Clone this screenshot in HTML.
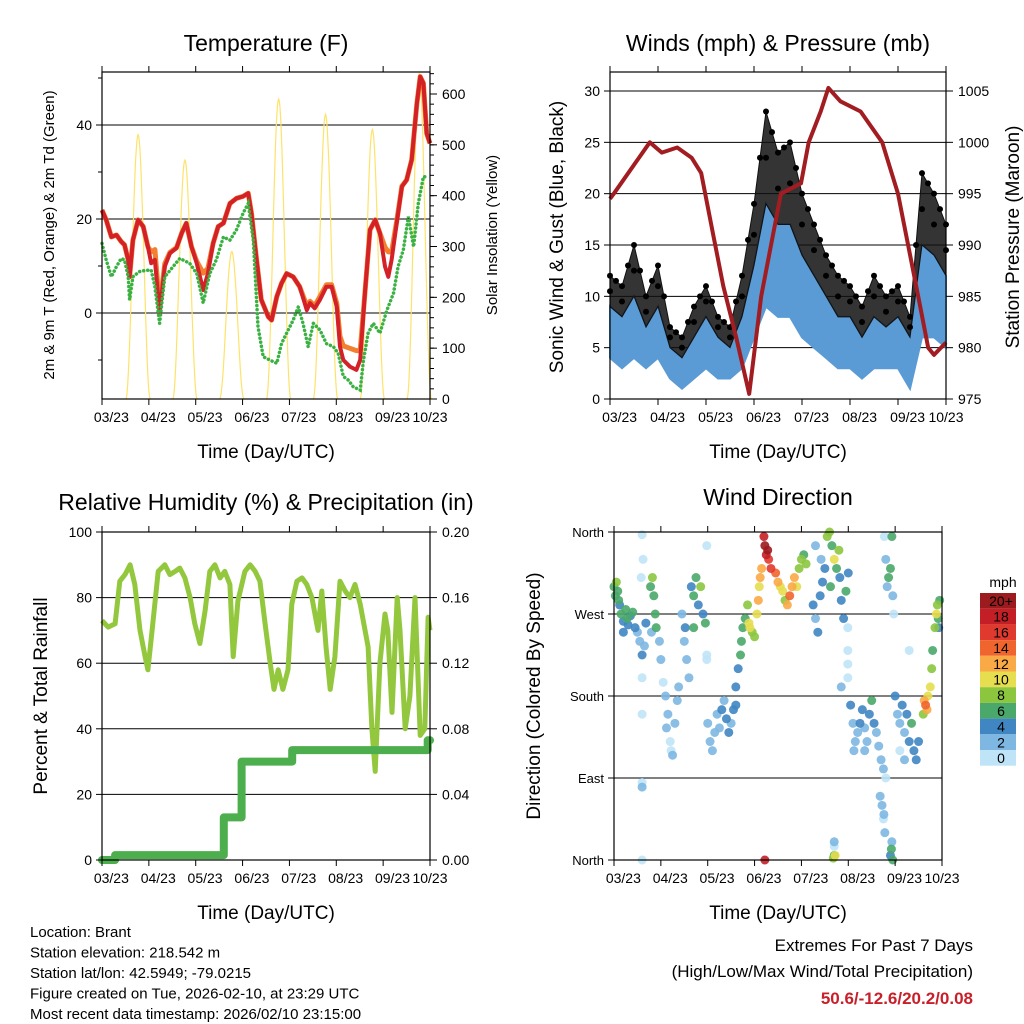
<!DOCTYPE html>
<html><head><meta charset="utf-8"><style>
html,body{margin:0;padding:0;background:#fff}
svg{display:block;font-family:"Liberation Sans",Arial,sans-serif}
</style></head><body>
<svg id="c" width="1024" height="1024" viewBox="0 0 1024 1024" xmlns="http://www.w3.org/2000/svg"></svg>
<script>
// ---------- DATA ----------
const dayLabels = ["03/23","04/23","05/23","06/23","07/23","08/23","09/23","10/23"];
const dayLabelT = [0.2,1.2,2.2,3.2,4.2,5.2,6.2,7.0];
const tempT = [0,.09,.20,.31,.41,.48,.56,.59,.66,.77,.88,.98,1.05,1.13,1.23,1.34,1.45,1.59,1.70,1.80,1.91,2.02,2.16,2.26,2.37,2.48,2.59,2.73,2.87,3.01,3.12,3.19,3.30,3.40,3.55,3.62,3.73,3.83,3.94,4.08,4.22,4.37,4.44,4.54,4.65,4.79,4.90,5.01,5.08,5.15,5.29,5.43,5.51,5.61,5.72,5.83,5.93,6.04,6.11,6.18,6.29,6.40,6.50,6.61,6.72,6.79,6.86,6.93,7.0];
const temp2m = [21.9,19.8,16.2,16.6,15.2,14.5,11.3,7.7,15.5,19.8,18.4,14.1,10.6,11.3,0,9.9,12.7,13.8,17,19.1,14.1,10.6,4.9,8.4,14.8,18.4,19.1,23.3,24.4,24.8,25.5,21.2,11.3,2.8,-0.8,-1.5,3.5,6.3,8.4,7.7,5.6,0.6,2.1,1.0,2.8,5.6,5.6,1.3,-7.2,-10,-11.4,-12.1,-10,4.2,17.7,19.8,17,9.9,7.7,11.3,19.1,26.9,28.3,32.6,44.6,50.3,48.9,38.2,36.1];
const temp9m = [21.9,19.8,16.2,16.6,15.2,14.5,11.3,7.7,15.5,19.8,18.4,14.1,13,13.5,1,10.5,12.9,13.9,17,19.1,14.1,11,8.5,9.5,14.8,18.4,19.1,23.3,24.4,24.8,25.5,21.2,11.3,2.8,-0.8,-1.5,3.5,6.3,8.4,7.7,5.6,1.5,2.5,1.5,3.5,6,6,2,-5,-7,-7.5,-8,-8,4.2,17.7,19.8,17,14,13,13,19.5,27,28.3,32.6,44.6,50.3,48.9,38.2,36.1];
const dewT = [0,.09,.20,.31,.41,.48,.56,.59,.66,.80,.95,1.05,1.13,1.23,1.34,1.52,1.66,1.87,2.02,2.16,2.30,2.44,2.59,2.73,2.87,3.01,3.12,3.23,3.33,3.44,3.58,3.73,3.83,3.94,4.08,4.19,4.29,4.40,4.51,4.65,4.79,4.94,5.04,5.15,5.26,5.36,5.51,5.58,5.68,5.79,5.93,6.08,6.22,6.32,6.43,6.54,6.65,6.75,6.86,6.97];
const dewPoint = [14.8,11.3,7.7,9.9,11.6,11.3,7.7,2.8,7.7,8.8,9.1,9.1,5.6,-2.2,7.7,9.9,11.6,10.6,8.4,2.1,8.4,11.3,16.2,15.5,17.7,21.2,23.3,15.5,-2.9,-9.3,-10,-10.7,-6.5,-4.3,-1.5,1.3,-2.2,-7.2,-2.2,-3.6,-6.5,-7.2,-8.6,-13.5,-14.3,-15.7,-16.4,-10,-4.3,-2.2,-4.3,0.6,4.2,9.9,13.4,20.5,14.1,23.3,29,29];
const solarPeakT = [0.77,1.77,2.77,3.77,4.77,5.77,6.77];
const solarPeak = [520,470,290,590,560,530,640];
const windT = [0,.25,.5,.75,1,1.25,1.5,1.75,2,2.25,2.5,2.75,3,3.25,3.5,3.75,4,4.25,4.5,4.75,5,5.25,5.5,5.75,6,6.25,6.5,6.75,7];
const gust = [12,11,15,10,13,7,6,9,11,8,7,12,19,28,24,25,20,17,14,12,11,9,12,10,11,8,22,20,17];
const windHi = [9,8,10,7,9,5,4,6,8,6,5,8,13,19,17,17,14,12,10,8,8,6,8,7,8,6,15,14,12];
const windLo = [4,3,4,3,4,2,1,2,3,2,2,3,6,9,8,8,6,5,4,3,3,2,3,3,3,1,6,6,5];
const presT = [0,.08,.83,1.08,1.4,1.70,1.9,2.15,2.36,2.63,2.9,3.15,3.56,3.98,4.14,4.39,4.55,4.8,5.22,5.67,6.0,6.21,6.42,6.63,6.75,7.0];
const pressure = [994.5,995,1000,999,999.5,998.5,997,991,986,981,975.5,985,995,996,1000,1003,1005.3,1004,1003,1000,995,990,985,980,979.3,980.5];
const rhT = [0,.13,.28,.38,.49,.60,.70,.81,.92,.98,1.07,1.20,1.34,1.45,1.56,1.66,1.77,1.88,1.98,2.09,2.20,2.30,2.41,2.52,2.62,2.73,2.80,2.90,3.05,3.16,3.27,3.37,3.48,3.59,3.67,3.76,3.86,3.97,4.05,4.16,4.27,4.37,4.48,4.61,4.69,4.78,4.87,4.97,5.08,5.19,5.29,5.40,5.51,5.68,5.76,5.83,5.93,6.04,6.10,6.19,6.30,6.36,6.47,6.57,6.68,6.79,6.89,6.96,7.0];
const rh = [73,71,72,85,87,90,84,70,62,58,70,88,90,87,88,89,86,80,72,66,76,88,90,86,88,84,62,79,88,90,88,85,72,60,52,58,52,58,78,85,86,84,80,70,82,65,52,62,85,82,80,84,78,65,40,27,60,75,70,45,80,70,40,50,80,38,40,74,70];
const rainT = [0,0.28,2.6,2.98,4.06,6.95,7.0];
const rain = [0,0.003,0.026,0.060,0.067,0.073,0.073];
const dirT = [0,.03,.05,.08,.1,.12,.15,.2,.25,.3,.35,.4,.45,.2,.28,.5,.55,.6,.65,.68,.6,.62,.58,.6,.6,.6,.6,.6,.78,.82,.85,.88,.9,.8,.97,1,1.05,1.1,1.15,1.2,1.25,1.3,1.35,1.38,1.12,1.22,1.45,1.5,1.55,1.6,1.52,1.65,1.7,1.75,1.8,1.85,1.9,1.95,1.7,1.98,1.98,1.98,2,2.05,2.1,2.15,2.2,2.3,2.4,2.5,2.55,2.6,2.25,2.35,2.45,2.6,2.65,2.7,2.72,2.75,2.8,2.85,2.9,2.95,3,2.88,3.05,3.08,3.1,3.12,3.15,3.2,3.22,3.25,3.3,3.35,3.28,3.22,3.45,3.5,3.55,3.6,3.65,3.7,3.75,3.8,3.85,3.9,3.95,4,4.05,4.1,4.25,4.3,4.35,4.4,4.45,4.5,4.3,4.42,4.55,4.6,4.65,4.7,4.75,4.8,4.62,4.82,4.85,4.9,4.95,5,4.99,4.99,4.99,4.85,4.99,4.7,4.7,4.7,4.68,4.72,5.05,5.1,5.15,5.2,5.25,5.3,5.35,5.4,5.45,5.5,5.55,5.6,5.65,5.7,5.75,5.8,5.12,5.35,5.68,5.72,5.75,5.78,5.76,5.9,5.92,5.95,5.93,5.77,5.8,5.83,5.86,5.9,5.93,5.95,5.97,6,6.05,6.1,6.15,6.2,6.25,6.3,6.35,6.4,6.45,6.1,6.2,6.5,6.3,6.62,6.65,6.68,6.7,6.6,6.75,6.78,6.8,6.85,6.88,6.9,6.92,6.95,6.93];
const dirDeg = [300,290,305,295,285,280,270,262,275,258,268,272,255,250,265,250,240,225,235,260,357,330,310,200,160,85,80,0,300,310,290,270,255,250,240,220,195,180,160,130,115,150,175,190,145,120,270,240,220,200,255,300,290,310,280,300,270,260,255,345,225,220,150,130,120,140,160,165,155,150,165,170,145,175,140,190,210,225,240,255,265,280,255,250,245,260,270,285,300,310,320,355,345,335,330,320,340,0,315,305,300,295,285,280,290,300,310,300,320,330,335,325,280,265,250,290,305,320,345,330,355,360,345,330,320,340,300,310,285,265,295,315,255,230,200,190,215,15,20,5,2,5,170,150,130,140,150,165,145,130,160,175,150,140,125,110,100,90,120,120,70,60,45,30,50,5,12,0,20,355,330,300,310,320,355,290,270,180,160,150,170,140,160,130,150,120,110,120,110,130,230,175,170,165,180,160,190,210,230,255,270,280,265,285,255];
const dirSpd = [7,6,8,6,7,5,6,5,6,4,5,6,4,4,6,3,2,4,3,4,0,0,1,0,1,0,2,0,7,8,6,6,7,3,2,2,1,2,2,1,2,2,2,2,2,0,2,3,2,2,4,4,6,7,5,8,4,6,7,0,1,0,2,2,2,3,3,4,4,3,4,4,2,3,4,4,5,6,6,7,7,8,10,9,8,11,11,12,10,13,13,19,20,18,17,16,20,19,14,12,10,10,9,12,14,12,12,11,9,8,7,8,4,3,4,4,4,4,2,3,8,9,7,10,6,8,6,4,5,4,6,4,1,1,0,2,0,0,3,6,8,10,4,3,2,3,4,4,3,3,4,6,4,3,2,2,2,1,2,3,2,2,1,2,3,5,6,7,3,1,2,3,6,6,6,2,1,4,3,2,4,3,4,4,6,4,4,1,2,5,1,12,14,13,10,8,10,9,7,8,10,9,6,7,5];
const spdLabels = ["20+","18","16","14","12","10","8","6","4","2","0"];
const spdColors = ["#9b1b1e","#c41f26","#e03a2e","#f0652d","#f9a945","#e6de4f","#8cc63f","#4aa86a","#3f86c2","#7db7e2","#bfe4f7"];

// ---------- HELPERS ----------
const NS="http://www.w3.org/2000/svg";
const svg=document.getElementById('c');
function el(tag,attrs,parent,text){const e=document.createElementNS(NS,tag);for(const k in attrs)e.setAttribute(k,attrs[k]);if(text!==undefined)e.textContent=text;(parent||svg).appendChild(e);return e;}
function lin(d0,d1,r0,r1){return v=>r0+(v-d0)*(r1-r0)/(d1-d0);}
function pathOf(xs,ys,X,Y){return xs.map((t,i)=>(i?'L':'M')+X(t).toFixed(1)+' '+Y(ys[i]).toFixed(1)).join(' ');}
function txt(x,y,s,size,anchor,name,extra){const t=el('text',Object.assign({x:x,y:y,'font-size':size,'text-anchor':anchor||'middle',fill:'#000'},extra||{}),svg,s);return t;}
function vtxt(x,y,s,size,name){const t=el('text',{x:0,y:0,'font-size':size,'text-anchor':'middle',transform:`translate(${x},${y}) rotate(-90)`,fill:'#000'},svg,s);return t;}

function frame(x0,x1,y0,y1,X,name){
  const g=el('g',{});
  
  
  el('rect',{x:x0,y:y0,width:x1-x0,height:y1-y0,fill:'none',stroke:'#000','stroke-width':1.2},g);
  for(let d=0;d<=7;d++){const x=X(d);el('line',{x1:x,x2:x,y1:y1,y2:y1+6,stroke:'#000'},g);el('line',{x1:x,x2:x,y1:y0,y2:y0-6,stroke:'#000'},g);}
  dayLabelT.forEach((t,i)=>{const l=el('text',{x:X(t),y:y1+23,'font-size':14,'text-anchor':'middle'},g,dayLabels[i]);});
  return g;
}
function grid(x0,x1,ys){ys.forEach(y=>el('line',{x1:x0,x2:x1,y1:y,y2:y,stroke:'#000','stroke-width':1}));}
function leftTicks(x0,vals,Y,fmt){vals.forEach(v=>{el('line',{x1:x0-6,x2:x0,y1:Y(v),y2:Y(v),stroke:'#000'});const l=el('text',{x:x0-10,y:Y(v)+5,'font-size':14,'text-anchor':'end'},svg,fmt?fmt(v):String(v));});}
function rightTicks(x1,vals,Y,fmt,minor){if(minor)minor.forEach(v=>el('line',{x1:x1,x2:x1+4,y1:Y(v),y2:Y(v),stroke:'#000'}));vals.forEach(v=>{el('line',{x1:x1,x2:x1+7,y1:Y(v),y2:Y(v),stroke:'#000'});const l=el('text',{x:x1+12,y:Y(v)+5,'font-size':14,'text-anchor':'start'},svg,fmt?fmt(v):String(v));});}

// ---------- PANEL 1: Temperature ----------
{
const X=lin(0,7,102,430), Y=lin(0,20,313,219), S=lin(0,600,399,94);
grid(102,430,[Y(0),Y(20),Y(40)]);
solarPeakT.forEach((pt,i)=>{
  const pts=[];for(let k=0;k<=40;k++){const u=-1+k/20;const v=solarPeak[i]*Math.pow(Math.cos(u*Math.PI/2),2);pts.push((k?'L':'M')+X(pt+u*0.26).toFixed(1)+' '+S(v).toFixed(1));}
  const p=el('path',{d:pts.join(' '),fill:'none',stroke:'#fde36a','stroke-width':1.2});
  
  
});
const o=el('path',{d:pathOf(tempT,temp9m,X,Y),fill:'none',stroke:'#f28030','stroke-width':5,'stroke-linejoin':'round'});


const r=el('path',{d:pathOf(tempT,temp2m,X,Y),fill:'none',stroke:'#d42027','stroke-width':4,'stroke-linejoin':'round'});


const g=el('path',{d:pathOf(dewT,dewPoint,X,Y),fill:'none',stroke:'#3bb143','stroke-width':3.5,'stroke-dasharray':'0.1 4','stroke-linecap':'round'});


frame(102,430,72,399,X,'temperature');
leftTicks(102,[0,20,40],Y);
for(let v=-10;v<=50;v+=20)el('line',{x1:98,x2:102,y1:Y(v),y2:Y(v),stroke:'#000'});
const minor=[];for(let v=0;v<=640;v+=20)minor.push(v);
rightTicks(430,[0,100,200,300,400,500,600],S,null,minor);
txt(266,51,'Temperature (F)',23,'middle','temperature-title');
txt(266,458,'Time (Day/UTC)',19,'middle','temperature-x-title');
vtxt(54,235,'2m & 9m T (Red, Orange) & 2m Td (Green)',15,'temperature-y-title');
vtxt(497,235,'Solar Insolation (Yellow)',15,'solar-y-title');
}

// ---------- PANEL 2: Winds ----------
{
const X=lin(0,7,610,946), Y=lin(0,30,399,91), P=lin(975,1005,399,91);
grid(610,946,[5,10,15,20,25,30].map(Y));
const lo=el('path',{d:pathOf(windT,windHi,X,Y)+' '+windT.slice().reverse().map((t,i)=>'L'+X(t).toFixed(1)+' '+Y(windLo[windT.length-1-i]).toFixed(1)).join(' ')+'Z',fill:'#5a9bd5',stroke:'#5a9bd5','stroke-width':2});


const hi=el('path',{d:pathOf(windT,gust,X,Y)+' '+windT.slice().reverse().map((t,i)=>'L'+X(t).toFixed(1)+' '+Y(windHi[windT.length-1-i]).toFixed(1)).join(' ')+'Z',fill:'#111',stroke:'#111','stroke-width':1,'fill-opacity':0.85});


windT.forEach((t,i)=>{
  [gust[i],(gust[i]+windHi[i])/2].forEach(v=>{const c=el('circle',{cx:X(t),cy:Y(v),r:3,fill:'#000'});});
  if(i<windT.length-1){const c=el('circle',{cx:X((t+windT[i+1])/2),cy:Y((gust[i]+gust[i+1])/2),r:3,fill:'#000'});}
});
const pl=el('path',{d:pathOf(presT,pressure,X,P),fill:'none',stroke:'#a21d21','stroke-width':4,'stroke-linejoin':'round'});


frame(610,946,72,399,X,'winds');
leftTicks(610,[0,5,10,15,20,25,30],Y);
rightTicks(946,[975,980,985,990,995,1000,1005],P);
txt(778,51,'Winds (mph) & Pressure (mb)',23,'middle','winds-title');
txt(778,458,'Time (Day/UTC)',19,'middle','winds-x-title');
vtxt(563,237,'Sonic Wind & Gust (Blue, Black)',19,'winds-y-title');
vtxt(1019,237,'Station Pressure (Maroon)',19,'pressure-y-title');
}

// ---------- PANEL 3: RH & Precip ----------
{
const X=lin(0,7,102,430), Y=lin(0,100,860,532), R=lin(0,0.2,860,532);
grid(102,430,[20,40,60,80].map(Y));
const rl=el('path',{d:pathOf(rhT,rh,X,Y),fill:'none',stroke:'#93c83e','stroke-width':5,'stroke-linejoin':'round'});


let d='';rainT.forEach((t,i)=>{d+=(i?'L'+X(t).toFixed(1)+' '+R(rain[i-1]).toFixed(1)+' L':'M')+X(t).toFixed(1)+' '+R(rain[i]).toFixed(1)+' ';});
const rp=el('path',{d:d,fill:'none',stroke:'#4cae4c','stroke-width':8,'stroke-linejoin':'round','stroke-linecap':'round'});


frame(102,430,532,860,X,'humidity');
leftTicks(102,[0,20,40,60,80,100],Y);
rightTicks(430,[0,0.04,0.08,0.12,0.16,0.20],R,v=>v.toFixed(2));
txt(266,510,'Relative Humidity (%) & Precipitation (in)',23,'middle','humidity-title');
txt(266,919,'Time (Day/UTC)',19,'middle','humidity-x-title');
vtxt(47,696,'Percent & Total Rainfall',19,'humidity-y-title');
}

// ---------- PANEL 4: Wind Direction ----------
{
const X=lin(0,7,614,942), D=lin(0,360,860,532);
grid(614,942,[0,90,180,270,360].map(D));
function col(s){const idx=Math.min(10,Math.floor(s/2));return spdColors[10-idx];}
const order=dirT.map((t,i)=>i).sort((a,b)=>dirSpd[a]-dirSpd[b]);
order.forEach(i=>{const c=el('circle',{cx:X(dirT[i]),cy:D(dirDeg[i]),r:4.5,fill:col(dirSpd[i]),'fill-opacity':0.9});});
frame(614,942,532,860,X,'direction');
['North','East','South','West','North'].forEach((s,i)=>{const v=i*90;el('line',{x1:608,x2:614,y1:D(v),y2:D(v),stroke:'#000'});const l=el('text',{x:604,y:D(v)+5,'font-size':13,'text-anchor':'end'},svg,s);});
txt(778,505,'Wind Direction',23,'middle','direction-title');
txt(778,919,'Time (Day/UTC)',19,'middle','direction-x-title');
vtxt(540,696,'Direction (Colored By Speed)',19,'direction-y-title');
txt(1003,587,'mph',14,'middle','colorbar-title');
spdLabels.forEach((s,i)=>{
  const y=593+i*15.7;
  const b=el('rect',{x:980,y:y,width:36,height:15.7,fill:spdColors[i]});
  
  
  txt(1001,y+13,s,14,'middle','colorbar-label');
});
}

// ---------- FOOTER ----------
['Location: Brant','Station elevation: 218.542 m','Station lat/lon: 42.5949; -79.0215','Figure created on Tue, 2026-02-10, at 23:29 UTC','Most recent data timestamp: 2026/02/10 23:15:00'].forEach((s,i)=>txt(30,937+i*20.5,s,15,'start','station-info-line'));
txt(973,951,'Extremes For Past 7 Days',17,'end','extremes-title');
txt(973,977,'(High/Low/Max Wind/Total Precipitation)',17,'end','extremes-subtitle');
txt(973,1004,'50.6/-12.6/20.2/0.08',17,'end','extremes-values',{fill:'#c8202a','font-weight':'bold'});
</script>
</body></html>
